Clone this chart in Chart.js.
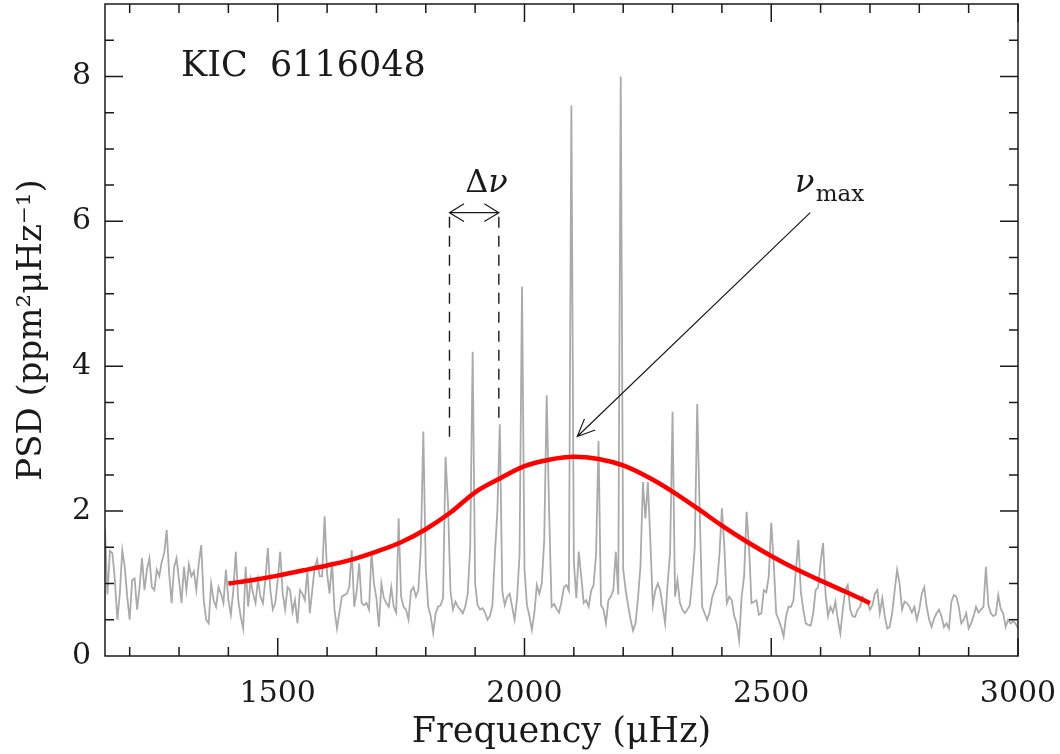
<!DOCTYPE html>
<html lang="en">
<head>
<meta charset="UTF-8">
<title>KIC 6116048 power spectrum</title>
<script src="https://cdn.jsdelivr.net/npm/chart.js"></script>
<style>
  body { margin: 0; background: #fff; }
  #psdChart { display: block; }
</style>
</head>
<body>
<canvas id="psdChart" width="1060" height="754"></canvas>
<script>
// power spectrum, one value every 5 muHz starting at 1150 muHz
const FREQ_START = 1150;
const FREQ_STEP = 5;
const psd = [
  1.75, 0.85, 1.45, 1.42, 1.05, 0.50, 0.86, 1.46, 1.23, 0.82, 0.50, 1.05, 1.07, 0.64, 0.95, 1.35, 0.91, 1.19, 1.35, 0.95, // 1150
  0.91, 1.19, 1.10, 1.30, 1.42, 1.74, 1.14, 0.73, 1.23, 1.35, 1.05, 0.73, 1.23, 0.91, 1.26, 1.10, 1.17, 0.91, 1.28, 1.53, // 1250
  0.77, 0.50, 0.45, 1.00, 0.77, 0.68, 0.95, 0.86, 0.73, 1.19, 0.77, 0.57, 0.91, 1.44, 0.77, 0.54, 0.38, 1.23, 0.68, 1.05, // 1350
  0.86, 0.73, 1.05, 0.82, 0.73, 1.05, 1.49, 0.91, 0.64, 0.73, 1.05, 1.44, 0.86, 0.64, 0.95, 0.91, 0.61, 0.77, 0.45, 0.91, // 1450
  0.86, 0.77, 1.19, 0.59, 0.91, 1.23, 1.33, 1.10, 1.10, 1.93, 1.14, 0.86, 1.30, 0.64, 0.38, 0.60, 0.82, 0.84, 0.86, 0.95, // 1550
  1.46, 0.68, 0.90, 1.28, 0.73, 0.70, 0.73, 0.64, 1.45, 1.00, 0.80, 0.40, 1.00, 0.80, 0.73, 0.68, 0.95, 0.68, 0.60, 1.90, // 1650
  0.82, 0.68, 0.64, 0.50, 0.90, 0.95, 0.82, 0.91, 1.50, 3.10, 1.20, 0.68, 0.55, 0.32, 0.59, 0.68, 0.70, 0.80, 2.75, 2.10, // 1750
  0.90, 0.64, 0.75, 0.68, 0.64, 0.59, 0.68, 0.86, 1.50, 4.20, 1.00, 0.70, 0.64, 0.66, 0.60, 0.50, 0.55, 0.70, 1.40, 2.00, // 1850
  3.20, 0.90, 0.70, 0.82, 0.86, 0.68, 0.50, 0.80, 1.40, 5.10, 1.20, 0.70, 0.55, 0.36, 0.59, 0.98, 0.86, 1.00, 1.60, 3.60, // 1950
  1.97, 0.68, 0.72, 0.65, 0.60, 0.75, 0.95, 0.98, 0.90, 7.60, 1.30, 0.80, 1.44, 1.10, 0.73, 0.77, 0.68, 0.90, 0.98, 1.40, // 2050
  2.97, 0.70, 0.64, 0.45, 0.77, 0.82, 0.91, 1.44, 0.85, 8.00, 1.20, 0.91, 0.70, 0.50, 0.35, 0.45, 0.80, 1.24, 2.40, 1.90, // 2150
  2.40, 1.60, 0.70, 0.90, 1.00, 0.91, 0.68, 0.45, 1.00, 1.42, 3.37, 0.82, 1.05, 0.73, 0.64, 0.59, 0.64, 0.70, 1.05, 1.50, // 2250
  3.48, 2.00, 0.68, 0.59, 0.50, 0.60, 0.80, 0.91, 1.00, 1.40, 2.04, 1.50, 0.73, 0.82, 0.77, 0.55, 0.45, 0.22, 0.82, 1.10, // 2350
  1.99, 1.51, 0.73, 0.75, 0.77, 0.57, 0.59, 0.91, 0.88, 1.10, 1.84, 1.28, 0.59, 0.50, 0.40, 0.27, 0.55, 0.68, 0.68, 0.77, // 2450
  1.19, 1.60, 0.88, 0.64, 0.45, 0.43, 0.42, 0.59, 0.91, 0.95, 1.30, 1.56, 0.86, 0.55, 0.68, 0.60, 0.75, 0.50, 0.31, 0.64, // 2550
  0.91, 0.98, 0.64, 0.55, 0.54, 0.64, 0.68, 0.82, 0.77, 0.75, 0.64, 0.70, 0.86, 0.91, 0.59, 0.80, 0.55, 0.38, 0.40, 0.59, // 2650
  0.90, 1.19, 1.00, 0.64, 0.75, 0.73, 0.68, 0.60, 0.68, 0.50, 0.64, 0.86, 0.95, 0.68, 0.50, 0.40, 0.52, 0.59, 0.64, 0.55, // 2750
  0.40, 0.45, 0.38, 0.75, 0.84, 0.82, 0.68, 0.45, 0.50, 0.59, 0.38, 0.45, 0.55, 0.68, 0.60, 0.64, 0.68, 1.23, 0.70, 0.59, // 2850
  0.55, 0.57, 0.84, 0.65, 0.59, 0.40, 0.50, 0.45, 0.48, 0.45, 0.38                                                        // 2950
];

// smoothed envelope (red curve)
const envFreq = [1400, 1450, 1500, 1550, 1600, 1650, 1700, 1750, 1800, 1850, 1900, 1950, 2000, 2050,
                 2100, 2150, 2200, 2250, 2300, 2350, 2400, 2450, 2500, 2550, 2600, 2650, 2700];
const envPsd = [1.00, 1.05, 1.11, 1.18, 1.25, 1.33, 1.44, 1.57, 1.75, 1.98, 2.26, 2.45, 2.62, 2.71,
                2.75, 2.72, 2.63, 2.47, 2.27, 2.04, 1.80, 1.58, 1.38, 1.20, 1.04, 0.89, 0.73];

const xTicks = [1500, 2000, 2500, 3000];
const yTicks = [0, 2, 4, 6, 8];

// annotations (data units)
const dnuFreq = [1848, 1948];       // dashed markers
const dnuBottom = [2.95, 3.25];
const dnuLevel = 6.12;              // double arrow height
const numaxFrom = [2579, 6.12];
const numaxTo = [2107, 3.03];

const spectrum = psd.map((v, i) => ({ x: FREQ_START + i * FREQ_STEP, y: v }));
const envelope = envFreq.map((f, i) => ({ x: f, y: envPsd[i] }));

const FONT = "'DejaVu Serif', serif";
const INK = '#1a1a1a';

function arrowHead(ctx, fx, fy, tx, ty, len, spread) {
  const a = Math.atan2(ty - fy, tx - fx);
  ctx.moveTo(tx - len * Math.cos(a - spread), ty - len * Math.sin(a - spread));
  ctx.lineTo(tx, ty);
  ctx.lineTo(tx - len * Math.cos(a + spread), ty - len * Math.sin(a + spread));
}

// box, inward ticks and labels drawn on top of the data
const decorations = {
  id: 'decorations',
  afterDatasetsDraw(chart) {
    const { ctx, chartArea: a, scales: { x, y } } = chart;
    ctx.save();
    ctx.strokeStyle = INK;
    ctx.lineWidth = 1.5;

    ctx.beginPath();
    for (let f = 1200; f <= 3000; f += 100) {
      const px = x.getPixelForValue(f);
      const len = f % 500 === 0 ? 18 : 9;
      ctx.moveTo(px, a.bottom); ctx.lineTo(px, a.bottom - len);
      ctx.moveTo(px, a.top); ctx.lineTo(px, a.top + len);
    }
    for (let v = 0.5; v < 9; v += 0.5) {
      const py = y.getPixelForValue(v);
      const len = v % 2 === 0 ? 18 : 9;
      ctx.moveTo(a.left, py); ctx.lineTo(a.left + len, py);
      ctx.moveTo(a.right, py); ctx.lineTo(a.right - len, py);
    }
    ctx.stroke();
    ctx.strokeRect(a.left, a.top, a.right - a.left, a.bottom - a.top);

    // delta nu marker
    const x1 = x.getPixelForValue(dnuFreq[0]);
    const x2 = x.getPixelForValue(dnuFreq[1]);
    const yl = y.getPixelForValue(dnuLevel);
    ctx.lineWidth = 1.4;
    ctx.setLineDash([11, 8]);
    ctx.beginPath();
    ctx.moveTo(x1, yl + 4); ctx.lineTo(x1, y.getPixelForValue(dnuBottom[0]));
    ctx.moveTo(x2, yl + 4); ctx.lineTo(x2, y.getPixelForValue(dnuBottom[1]));
    ctx.stroke();
    ctx.setLineDash([]);
    ctx.lineWidth = 1.2;
    ctx.beginPath();
    ctx.moveTo(x1, yl); ctx.lineTo(x2, yl);
    arrowHead(ctx, x2, yl, x1, yl, 17, 0.55);
    arrowHead(ctx, x1, yl, x2, yl, 17, 0.55);
    ctx.stroke();

    // nu_max arrow
    const fx = x.getPixelForValue(numaxFrom[0]), fy = y.getPixelForValue(numaxFrom[1]);
    const tx = x.getPixelForValue(numaxTo[0]), ty = y.getPixelForValue(numaxTo[1]);
    ctx.beginPath();
    ctx.moveTo(fx, fy); ctx.lineTo(tx, ty);
    arrowHead(ctx, fx, fy, tx, ty, 19, 0.42);
    ctx.stroke();

    // text
    ctx.fillStyle = INK;
    ctx.textBaseline = 'alphabetic';
    ctx.textAlign = 'left';
    ctx.font = '35px ' + FONT;
    ctx.fillText('KIC  6116048', x.getPixelForValue(1304), y.getPixelForValue(8.0));

    ctx.font = '32px ' + FONT;
    const dx = x.getPixelForValue(1880), dy = y.getPixelForValue(6.40);
    ctx.fillText('Δ', dx, dy);
    const dw = ctx.measureText('Δ').width;
    ctx.font = 'italic 32px ' + FONT;
    ctx.fillText('ν', dx + dw, dy);

    ctx.font = 'italic 32px ' + FONT;
    ctx.fillText('ν', x.getPixelForValue(2548), y.getPixelForValue(6.41));
    ctx.font = '23px ' + FONT;
    ctx.fillText('max', x.getPixelForValue(2590), y.getPixelForValue(6.28));
    ctx.restore();
  }
};

new Chart(document.getElementById('psdChart'), {
  type: 'line',
  data: {
    datasets: [
      {
        label: 'envelope',
        data: envelope,
        borderColor: '#ff0000',
        borderWidth: 4.5,
        pointRadius: 0,
        cubicInterpolationMode: 'monotone',
        order: 0
      },
      {
        label: 'PSD',
        data: spectrum,
        borderColor: '#aaaaaa',
        borderWidth: 1.8,
        pointRadius: 0,
        tension: 0,
        order: 1
      }
    ]
  },
  options: {
    responsive: false,
    animation: false,
    layout: { padding: { top: 4, right: 42, left: 0, bottom: 0 } },
    plugins: { legend: { display: false }, tooltip: { enabled: false } },
    scales: {
      x: {
        type: 'linear',
        min: 1150,
        max: 3000,
        afterFit: s => { s.height = 98; s.paddingLeft = 0; s.paddingRight = 0; },
        afterBuildTicks: s => { s.ticks = xTicks.map(v => ({ value: v })); },
        grid: { display: false, drawTicks: false },
        border: { display: false },
        ticks: {
          padding: 20, color: INK, maxRotation: 0,
          font: { family: FONT, size: 30 },
          callback: v => String(v)
        },
        title: {
          display: true,
          text: 'Frequency (μHz)',
          color: INK,
          font: { family: FONT, size: 35 },
          padding: { top: 0, bottom: 0 }
        }
      },
      y: {
        min: 0,
        max: 9,
        afterFit: s => { s.width = 105; s.paddingTop = 0; s.paddingBottom = 0; },
        afterBuildTicks: s => { s.ticks = yTicks.map(v => ({ value: v })); },
        grid: { display: false, drawTicks: false },
        border: { display: false },
        ticks: {
          padding: 14, color: INK,
          font: { family: FONT, size: 30 },
          callback: v => String(v)
        },
        title: {
          display: true,
          text: 'PSD (ppm²μHz⁻¹)',
          color: INK,
          font: { family: FONT, size: 34 },
          padding: { top: 12, bottom: 0 }
        }
      }
    }
  },
  plugins: [decorations]
});
</script>
</body>
</html>
